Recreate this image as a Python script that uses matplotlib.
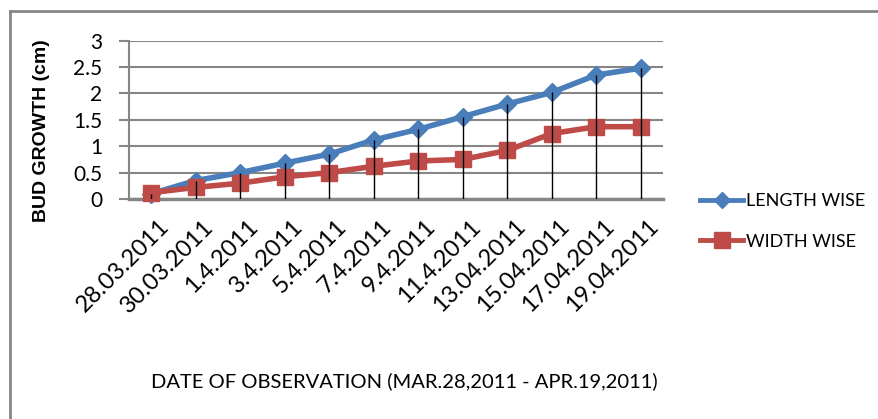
import matplotlib
matplotlib.use("Agg")
import matplotlib.pyplot as plt
from matplotlib.lines import Line2D
from matplotlib.transforms import ScaledTranslation

dates = ["28.03.2011", "30.03.2011", "1.4.2011", "3.4.2011", "5.4.2011", "7.4.2011",
         "9.4.2011", "11.4.2011", "13.04.2011", "15.04.2011", "17.04.2011", "19.04.2011"]
length_wise = [0.10, 0.35, 0.50, 0.68, 0.85, 1.12, 1.32, 1.56, 1.80, 2.02, 2.35, 2.48]
width_wise = [0.12, 0.22, 0.30, 0.42, 0.50, 0.62, 0.72, 0.75, 0.92, 1.24, 1.37, 1.37]
y_ticks = [0, 0.5, 1, 1.5, 2, 2.5, 3]
y_tick_labels = ["0", "0.5", "1", "1.5", "2", "2.5", "3"]

W, H = 879, 419
fig = plt.figure(figsize=(W / 100, H / 100), dpi=100)
fig.patch.set_facecolor("white")

font = "Lato"
blue = "#4A7EBB"
red = "#BE4B48"
grid = "#868686"

ax = fig.add_axes([129 / W, 1 - 199 / H, (663 - 129) / W, (199 - 40.7) / H])
x = list(range(len(dates)))
ax.set_xlim(-0.5, len(dates) - 0.5)
ax.set_ylim(0, 3)

ax.set_yticks(y_ticks)
ax.set_yticklabels(y_tick_labels, fontfamily=font, fontsize=15)
ax.yaxis.grid(True, color=grid, linewidth=1.5)
ax.set_axisbelow(True)
ax.tick_params(axis="y", length=7, width=1.5, color=grid, pad=12)
ax.set_xticks(x)
ax.set_xticklabels(dates, rotation=45, ha="right", va="top", rotation_mode="anchor",
                   fontfamily=font, fontsize=17)
ax.tick_params(axis="x", length=0, pad=12)
offset = ScaledTranslation(7 / 100, 0, fig.dpi_scale_trans)
for lbl in ax.get_xticklabels():
    lbl.set_transform(lbl.get_transform() + offset)

for s in ["top", "right"]:
    ax.spines[s].set_visible(False)
ax.spines["left"].set_color(grid)
ax.spines["left"].set_linewidth(1.5)
ax.spines["bottom"].set_color(grid)
ax.spines["bottom"].set_linewidth(2.5)

ax.plot(x, length_wise, color=blue, linewidth=4, marker="D", markersize=9,
        markerfacecolor=blue, markeredgecolor=blue, zorder=3, clip_on=False)
ax.plot(x, width_wise, color=red, linewidth=4, marker="s", markersize=12,
        markerfacecolor=red, markeredgecolor=red, zorder=3, clip_on=False)
ax.vlines(x, 0, length_wise, color="black", linewidth=1, zorder=4)

ax.set_ylabel("BUD GROWTH (cm)", fontfamily="Liberation Sans", fontweight="bold",
              fontsize=14)
ax.yaxis.set_label_coords((50 - 129) / (663 - 129), (199 - 131) / (199 - 40.7))

fig.text(404 / W, 1 - 381 / H, "DATE OF OBSERVATION (MAR.28,2011 - APR.19,2011)",
         ha="center", va="center", fontfamily=font, fontsize=14.5)

handles = [
    Line2D([], [], color=blue, linewidth=3.5, marker="D", markersize=8),
    Line2D([], [], color=red, linewidth=3.5, marker="s", markersize=11),
]
fig.legend(handles, ["LENGTH WISE", "WIDTH WISE"], loc="center left",
           bbox_to_anchor=(700 / W, 1 - 221.5 / H), frameon=False,
           prop={"family": font, "size": 13}, handlelength=2.4, handletextpad=0.15,
           labelspacing=1.35, borderpad=0, borderaxespad=0)

# outer chart frame (top and left edges visible)
fig.add_artist(Line2D([10 / W, 878 / W], [1 - 11 / H, 1 - 11 / H], color=grid, linewidth=2))
fig.add_artist(Line2D([10 / W, 10 / W], [1 - 11 / H, 0], color=grid, linewidth=2))

fig.savefig("out.png", dpi=100)
